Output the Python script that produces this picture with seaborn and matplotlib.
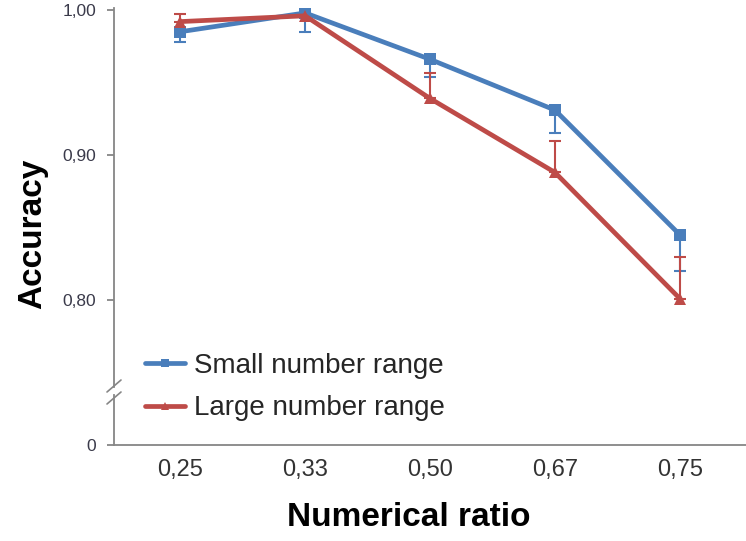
import numpy as np
import pandas as pd
import matplotlib
matplotlib.use("Agg")
import matplotlib.pyplot as plt
import seaborn as sns

ratios = ["0,25", "0,33", "0,50", "0,67", "0,75"]
small_acc = [0.985, 0.998, 0.966, 0.931, 0.845]
large_acc = [0.992, 0.996, 0.939, 0.888, 0.801]
small_err = [0.007, 0.0135, 0.0125, 0.016, 0.025]   # drawn downward
large_err = [0.005, 0.002, 0.0175, 0.022, 0.029]    # drawn upward
series_names = ["Small number range", "Large number range"]
ytick_vals = [0.80, 0.90, 1.00]
ytick_labels = ["0,80", "0,90", "1,00"]

sns.set_theme(style="white")
plt.rcParams["font.family"] = ["Liberation Sans", "DejaVu Sans"]

BLUE = "#4A7EBB"
RED = "#BE4B48"
AXC = "#868686"
TXT = "#3a3a4a"

df = pd.DataFrame({
    "ratio": ratios * 2,
    "acc": small_acc + large_acc,
    "series": [series_names[0]] * 5 + [series_names[1]] * 5,
})

fig = plt.figure(figsize=(7.46, 5.41), dpi=100)
ax = fig.add_axes([114 / 746, 1 - 387 / 541, 1 - 114 / 746, (387 - 8) / 541])
axb = fig.add_axes([114 / 746, 1 - 445 / 541, 1 - 114 / 746, (445 - 395) / 541])

sns.lineplot(data=df, x="ratio", y="acc", hue="series", style="series",
             palette=[BLUE, RED], markers=["s", "^"], dashes=False,
             linewidth=3.4, markersize=9, markeredgewidth=0, ax=ax, sort=False)

xpos = np.arange(len(ratios))
ax.errorbar(xpos, small_acc, yerr=[small_err, [0] * 5], fmt="none",
            ecolor=BLUE, elinewidth=1.5, capsize=4, capthick=1.5, zorder=1)
ax.errorbar(xpos, large_acc, yerr=[[0] * 5, large_err], fmt="none",
            ecolor=RED, elinewidth=1.5, capsize=4, capthick=1.5, zorder=1)

pix = 0.1 / 145
ax.set_ylim(1.0 - 377 * pix, 1.0 + 2 * pix)
ax.set_xlim(-0.53, 4.53)
ax.set_yticks(ytick_vals)
ax.set_yticklabels(ytick_labels)
ax.set_xticks([])
ax.set_xlabel("")
ax.set_ylabel("")
for s in ["top", "right", "bottom"]:
    ax.spines[s].set_visible(False)
ax.spines["left"].set_color(AXC)
ax.spines["left"].set_linewidth(1.3)
ax.tick_params(axis="y", direction="out", length=5, width=1.3, color=AXC,
               labelsize=12.5, labelcolor=TXT, pad=8, left=True)

axb.set_xlim(-0.53, 4.53)
axb.set_ylim(0, 1)
axb.set_yticks([0])
axb.set_yticklabels(["0"])
axb.set_xticks(xpos)
axb.set_xticklabels(ratios)
for s in ["top", "right"]:
    axb.spines[s].set_visible(False)
for s in ["left", "bottom"]:
    axb.spines[s].set_color(AXC)
    axb.spines[s].set_linewidth(1.3)
axb.tick_params(axis="y", direction="out", length=5, width=1.3, color=AXC,
                labelsize=12.5, labelcolor=TXT, pad=8, left=True)
axb.tick_params(axis="x", length=0, labelsize=17, labelcolor="#333333", pad=10)
axb.patch.set_alpha(0)
ax.patch.set_alpha(0)

# break marks
for yb in (386, 398):
    fig.add_artist(plt.Line2D([107 / 746, 121 / 746],
                              [1 - (yb + 6) / 541, 1 - (yb - 6) / 541],
                              color=AXC, lw=1.2))

# legend
handles, labels = ax.get_legend_handles_labels()
for h in handles:
    h.set_markersize(6)
ax.legend(handles, labels, loc="center left",
          bbox_to_anchor=(131 / 746, 1 - 387 / 541), bbox_transform=fig.transFigure,
          frameon=False, fontsize=20, handlelength=1.45, handletextpad=0.3,
          labelspacing=0.6, borderpad=0)

fig.text(409 / 746, 1 - 517 / 541, "Numerical ratio", ha="center", va="center",
         fontsize=24, fontweight="bold", color="black")
fig.text(33 / 746, 1 - 234 / 541, "Accuracy", ha="center", va="center",
         rotation=90, fontsize=24, fontweight="bold", color="black")

fig.savefig("out.png", dpi=100)
